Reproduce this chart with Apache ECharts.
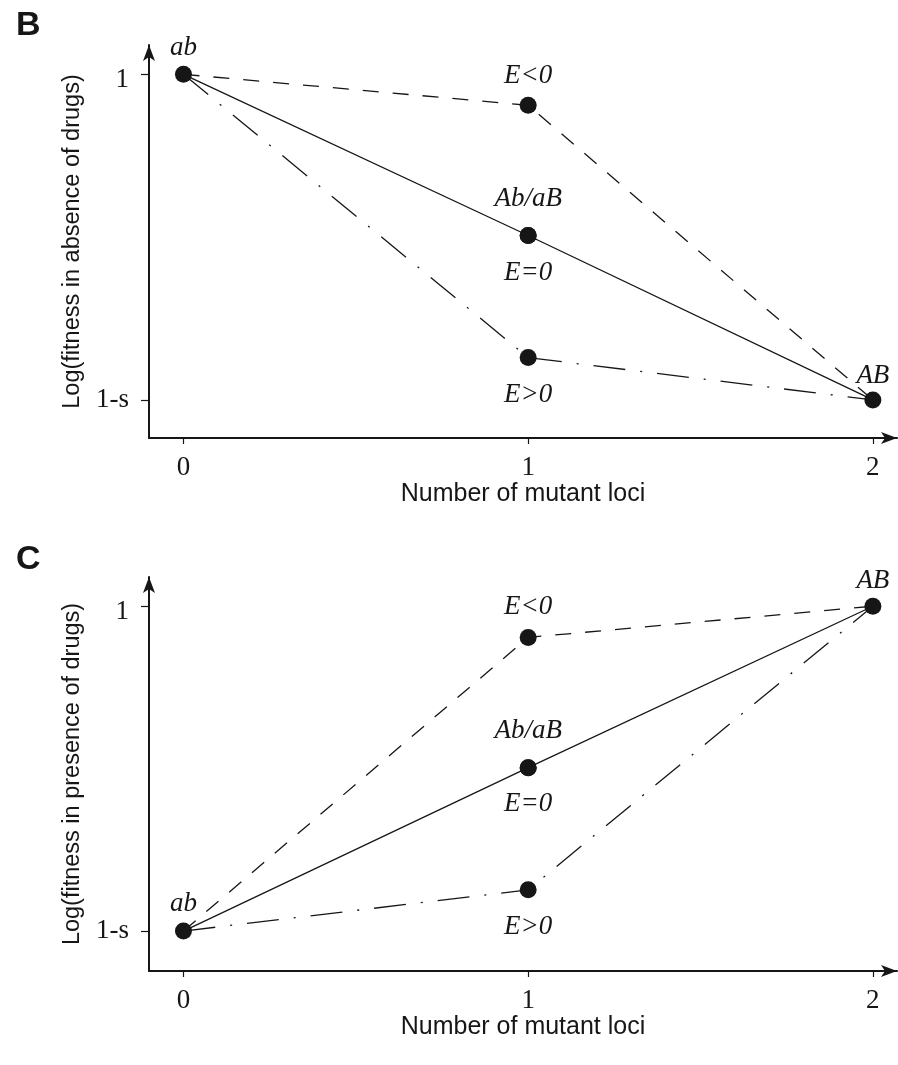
<!DOCTYPE html>
<html>
<head>
<meta charset="utf-8">
<script src="https://cdn.jsdelivr.net/npm/echarts@6/dist/echarts.min.js"></script>
<style>
html,body{margin:0;padding:0;background:#fff;}
#chart{width:898px;height:1065px;}
</style>
</head>
<body>
<div id="chart"></div>
<script>
// ---- data ----
const mutantLoci = [0, 1, 2];
const xTickLabels = ['0', '1', '2'];
const yTickValues = [0, 1];
const yTickLabels = ['1-s', '1'];
// Panel B: fitness in absence of drugs (0 = 1-s, 1 = 1)
const absenceEZero = [1, 0.505, 0];
const absenceENeg  = [1, 0.905, 0];
const absenceEPos  = [1, 0.13, 0];
// Panel C: fitness in presence of drugs
const presenceEZero = [0, 0.503, 1];
const presenceENeg  = [0, 0.904, 1];
const presenceEPos  = [0, 0.127, 1];
// texts
const genotypeLabels = ['ab', 'Ab/aB', 'AB'];
const effectLabels = ['E<0', 'E=0', 'E>0'];
const panelLetters = ['B', 'C'];
const yAxisTitles = ['Log(fitness in absence of drugs)', 'Log(fitness in presence of drugs)'];
const xAxisTitle = 'Number of mutant loci';

// ---- styles ----
const INK = '#161616';
const serif = "'Liberation Serif', 'DejaVu Serif', serif";
const sans = "'Liberation Sans', Arial, sans-serif";

function pts(vals) { return mutantLoci.map((x, i) => [x, vals[i]]); }

function lineSeries(g, vals, type) {
  return {
    type: 'line', xAxisIndex: g, yAxisIndex: g, data: pts(vals),
    symbol: 'none', silent: true, animation: false, z: 2,
    lineStyle: { color: INK, width: 1.3, type: type, opacity: 1 }
  };
}
function lab(x, y, text, pos, dist) {
  return { value: [x, y], label: { show: true, formatter: text, position: pos, distance: dist } };
}
function dotSeries(g, items) {
  return {
    type: 'scatter', xAxisIndex: g, yAxisIndex: g, data: items,
    symbol: 'circle', symbolSize: 17, animation: false, z: 5, silent: true,
    itemStyle: { color: INK, opacity: 1 },
    label: { show: true, color: INK, opacity: 1, fontFamily: serif, fontStyle: 'italic', fontSize: 27 }
  };
}

const DASH = [16, 14];
const DASHDOT = [32, 15, 2, 15];

function xAxisCfg(g, gap) {
  return {
    type: 'value', gridIndex: g, min: -0.1, max: 2.07,
    name: xAxisTitle, nameLocation: 'middle', nameGap: gap,
    nameTextStyle: { fontFamily: sans, fontSize: 25, color: INK },
    splitLine: { show: false },
    axisLine: { show: true, onZero: false, lineStyle: { color: INK, width: 2 }, symbol: ['none', 'arrow'], symbolSize: [9, 16] },
    axisTick: { show: true, length: 6, lineStyle: { color: INK, width: 1.2 }, customValues: mutantLoci },
    axisLabel: { show: true, margin: 16, fontFamily: serif, fontSize: 27, color: INK,
      customValues: mutantLoci, formatter: v => xTickLabels[mutantLoci.indexOf(v)] }
  };
}
function yAxisCfg(g, min) {
  return {
    type: 'value', gridIndex: g, min: min, max: 1.09,
    name: yAxisTitles[g], nameLocation: 'middle', nameGap: 64,
    nameTextStyle: { fontFamily: sans, fontSize: 23.5, color: INK },
    splitLine: { show: false },
    axisLine: { show: true, onZero: false, lineStyle: { color: INK, width: 2 }, symbol: ['none', 'arrow'], symbolSize: [9, 16] },
    axisTick: { show: true, length: 8, lineStyle: { color: INK, width: 1.2 }, customValues: yTickValues },
    axisLabel: { show: true, margin: 20, fontFamily: serif, fontSize: 27, color: INK,
      customValues: yTickValues,
      formatter: v => { const i = yTickValues.indexOf(v); return v === 1 ? '{one|' + yTickLabels[i] + '}' : yTickLabels[i]; },
      rich: { one: { fontFamily: serif, fontSize: 27, color: INK, padding: [12, 0, 0, 0] } } }
  };
}

const option = {
  backgroundColor: '#fff',
  animation: false,
  title: [
    { text: panelLetters[0], left: 11, top: 4, textStyle: { fontFamily: sans, fontWeight: 'bold', fontSize: 34, color: INK } },
    { text: panelLetters[1], left: 11, top: 538, textStyle: { fontFamily: sans, fontWeight: 'bold', fontSize: 34, color: INK } }
  ],
  grid: [
    { left: 149, top: 45, width: 748, height: 393 },
    { left: 149, top: 577, width: 748, height: 394 }
  ],
  xAxis: [xAxisCfg(0, 42), xAxisCfg(1, 39)],
  yAxis: [yAxisCfg(0, -0.117), yAxisCfg(1, -0.123)],
  series: [
    lineSeries(0, absenceENeg, DASH),
    lineSeries(0, absenceEZero, 'solid'),
    lineSeries(0, absenceEPos, DASHDOT),
    dotSeries(0, [
      lab(mutantLoci[0], absenceEZero[0], genotypeLabels[0], 'top', 4),
      lab(mutantLoci[1], absenceENeg[1], effectLabels[0], 'top', 7.5),
      lab(mutantLoci[1], absenceEZero[1], genotypeLabels[1], 'top', 15),
      lab(mutantLoci[1], absenceEPos[1], effectLabels[2], 'bottom', 15),
      lab(mutantLoci[2], absenceEZero[2], genotypeLabels[2], 'top', 2)
    ]),
    dotSeries(0, [
      lab(mutantLoci[1], absenceEZero[1], effectLabels[1], 'bottom', 15)
    ]),
    lineSeries(1, presenceENeg, DASH),
    lineSeries(1, presenceEZero, 'solid'),
    lineSeries(1, presenceEPos, DASHDOT),
    dotSeries(1, [
      lab(mutantLoci[0], presenceEZero[0], genotypeLabels[0], 'top', 5),
      lab(mutantLoci[1], presenceENeg[1], effectLabels[0], 'top', 9),
      lab(mutantLoci[1], presenceEZero[1], genotypeLabels[1], 'top', 15),
      lab(mutantLoci[1], presenceEPos[1], effectLabels[2], 'bottom', 15),
      lab(mutantLoci[2], presenceEZero[2], genotypeLabels[2], 'top', 3)
    ]),
    dotSeries(1, [
      lab(mutantLoci[1], presenceEZero[1], effectLabels[1], 'bottom', 14)
    ])
  ]
};

const chart = echarts.init(document.getElementById('chart'), null, { renderer: 'canvas' });
chart.setOption(option);
</script>
</body>
</html>
